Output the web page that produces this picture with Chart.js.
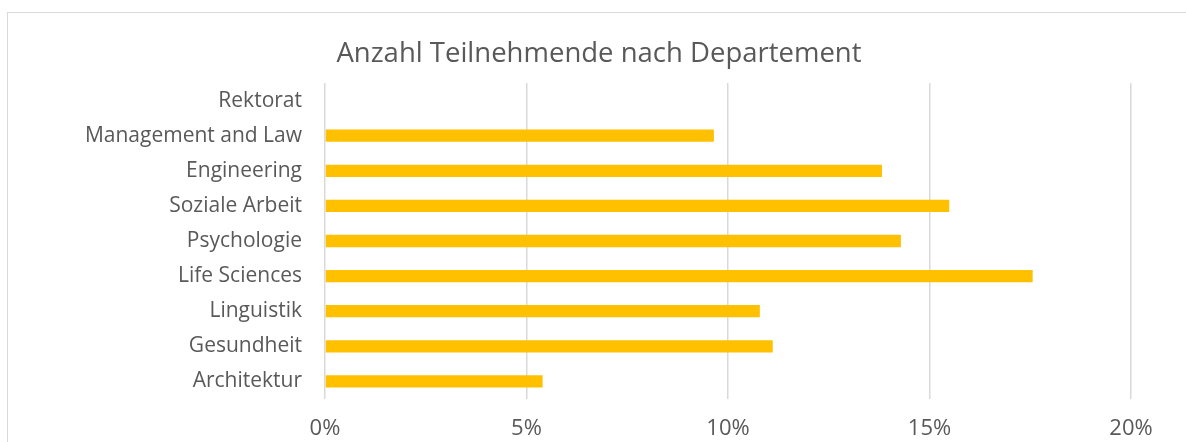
<!DOCTYPE html>
<html>
<head>
<meta charset="utf-8">
<script src="https://cdn.jsdelivr.net/npm/chart.js@4/dist/chart.umd.min.js"></script>
<style>
  html, body { margin: 0; padding: 0; background: #fff; overflow: hidden; }
  .frame {
    position: absolute; left: 7px; top: 12px; width: 1200px; height: 460px;
    border: 1.5px solid #d9d9d9; box-sizing: border-box;
  }
  .wrap { position: absolute; left: 0; top: 0; width: 1186px; height: 442px; }
</style>
</head>
<body>
<div class="frame"></div>
<div class="wrap"><canvas id="deptChart"></canvas></div>
<script>
// categories, top to bottom
const departments = [
  'Rektorat',
  'Management and Law',
  'Engineering',
  'Soziale Arbeit',
  'Psychologie',
  'Life Sciences',
  'Linguistik',
  'Gesundheit',
  'Architektur'
];
// share of participants in percent
const shares = [0, 9.65, 13.82, 15.49, 14.29, 17.56, 10.79, 11.11, 5.40];
const xTicks = [0, 5, 10, 15, 20];

const textColor = '#595959';
const gridColor = '#d9d9d9';

const ctx = document.getElementById('deptChart').getContext('2d');
const deptChart = new Chart(ctx, {
  type: 'bar',
  data: {
    labels: departments,
    datasets: [{
      label: 'Anteil',
      data: shares,
      backgroundColor: '#FFC000',
      borderWidth: 0,
      barPercentage: 0.35,
      categoryPercentage: 1
    }]
  },
  options: {
    indexAxis: 'y',
    responsive: true,
    maintainAspectRatio: false,
    animation: false,
    layout: { padding: { left: 67, right: 55, top: 0, bottom: 0 } },
    plugins: {
      legend: { display: false },
      tooltip: { enabled: false },
      title: {
        display: true,
        text: 'Anzahl Teilnehmende nach Departement',
        color: textColor,
        font: { family: 'Open Sans', size: 27.5, weight: 'normal' },
        padding: { top: 38, bottom: 12 }
      }
    },
    scales: {
      x: {
        min: 0,
        max: 20,
        afterBuildTicks: (axis) => { axis.ticks = xTicks.map(v => ({ value: v })); },
        afterFit: (axis) => { axis.height = 43; },
        grid: { color: gridColor, lineWidth: 1.5, drawTicks: false },
        border: { display: false },
        ticks: {
          color: textColor,
          padding: 17,
          font: { family: 'Open Sans', size: 22 },
          callback: (v) => v + '%'
        }
      },
      y: {
        afterFit: (axis) => { axis.width = 258; },
        grid: { display: false, drawTicks: false },
        border: { display: false },
        ticks: {
          color: textColor,
          padding: 23,
          font: { family: 'Open Sans', size: 21 }
        }
      }
    }
  }
});
</script>
</body>
</html>
